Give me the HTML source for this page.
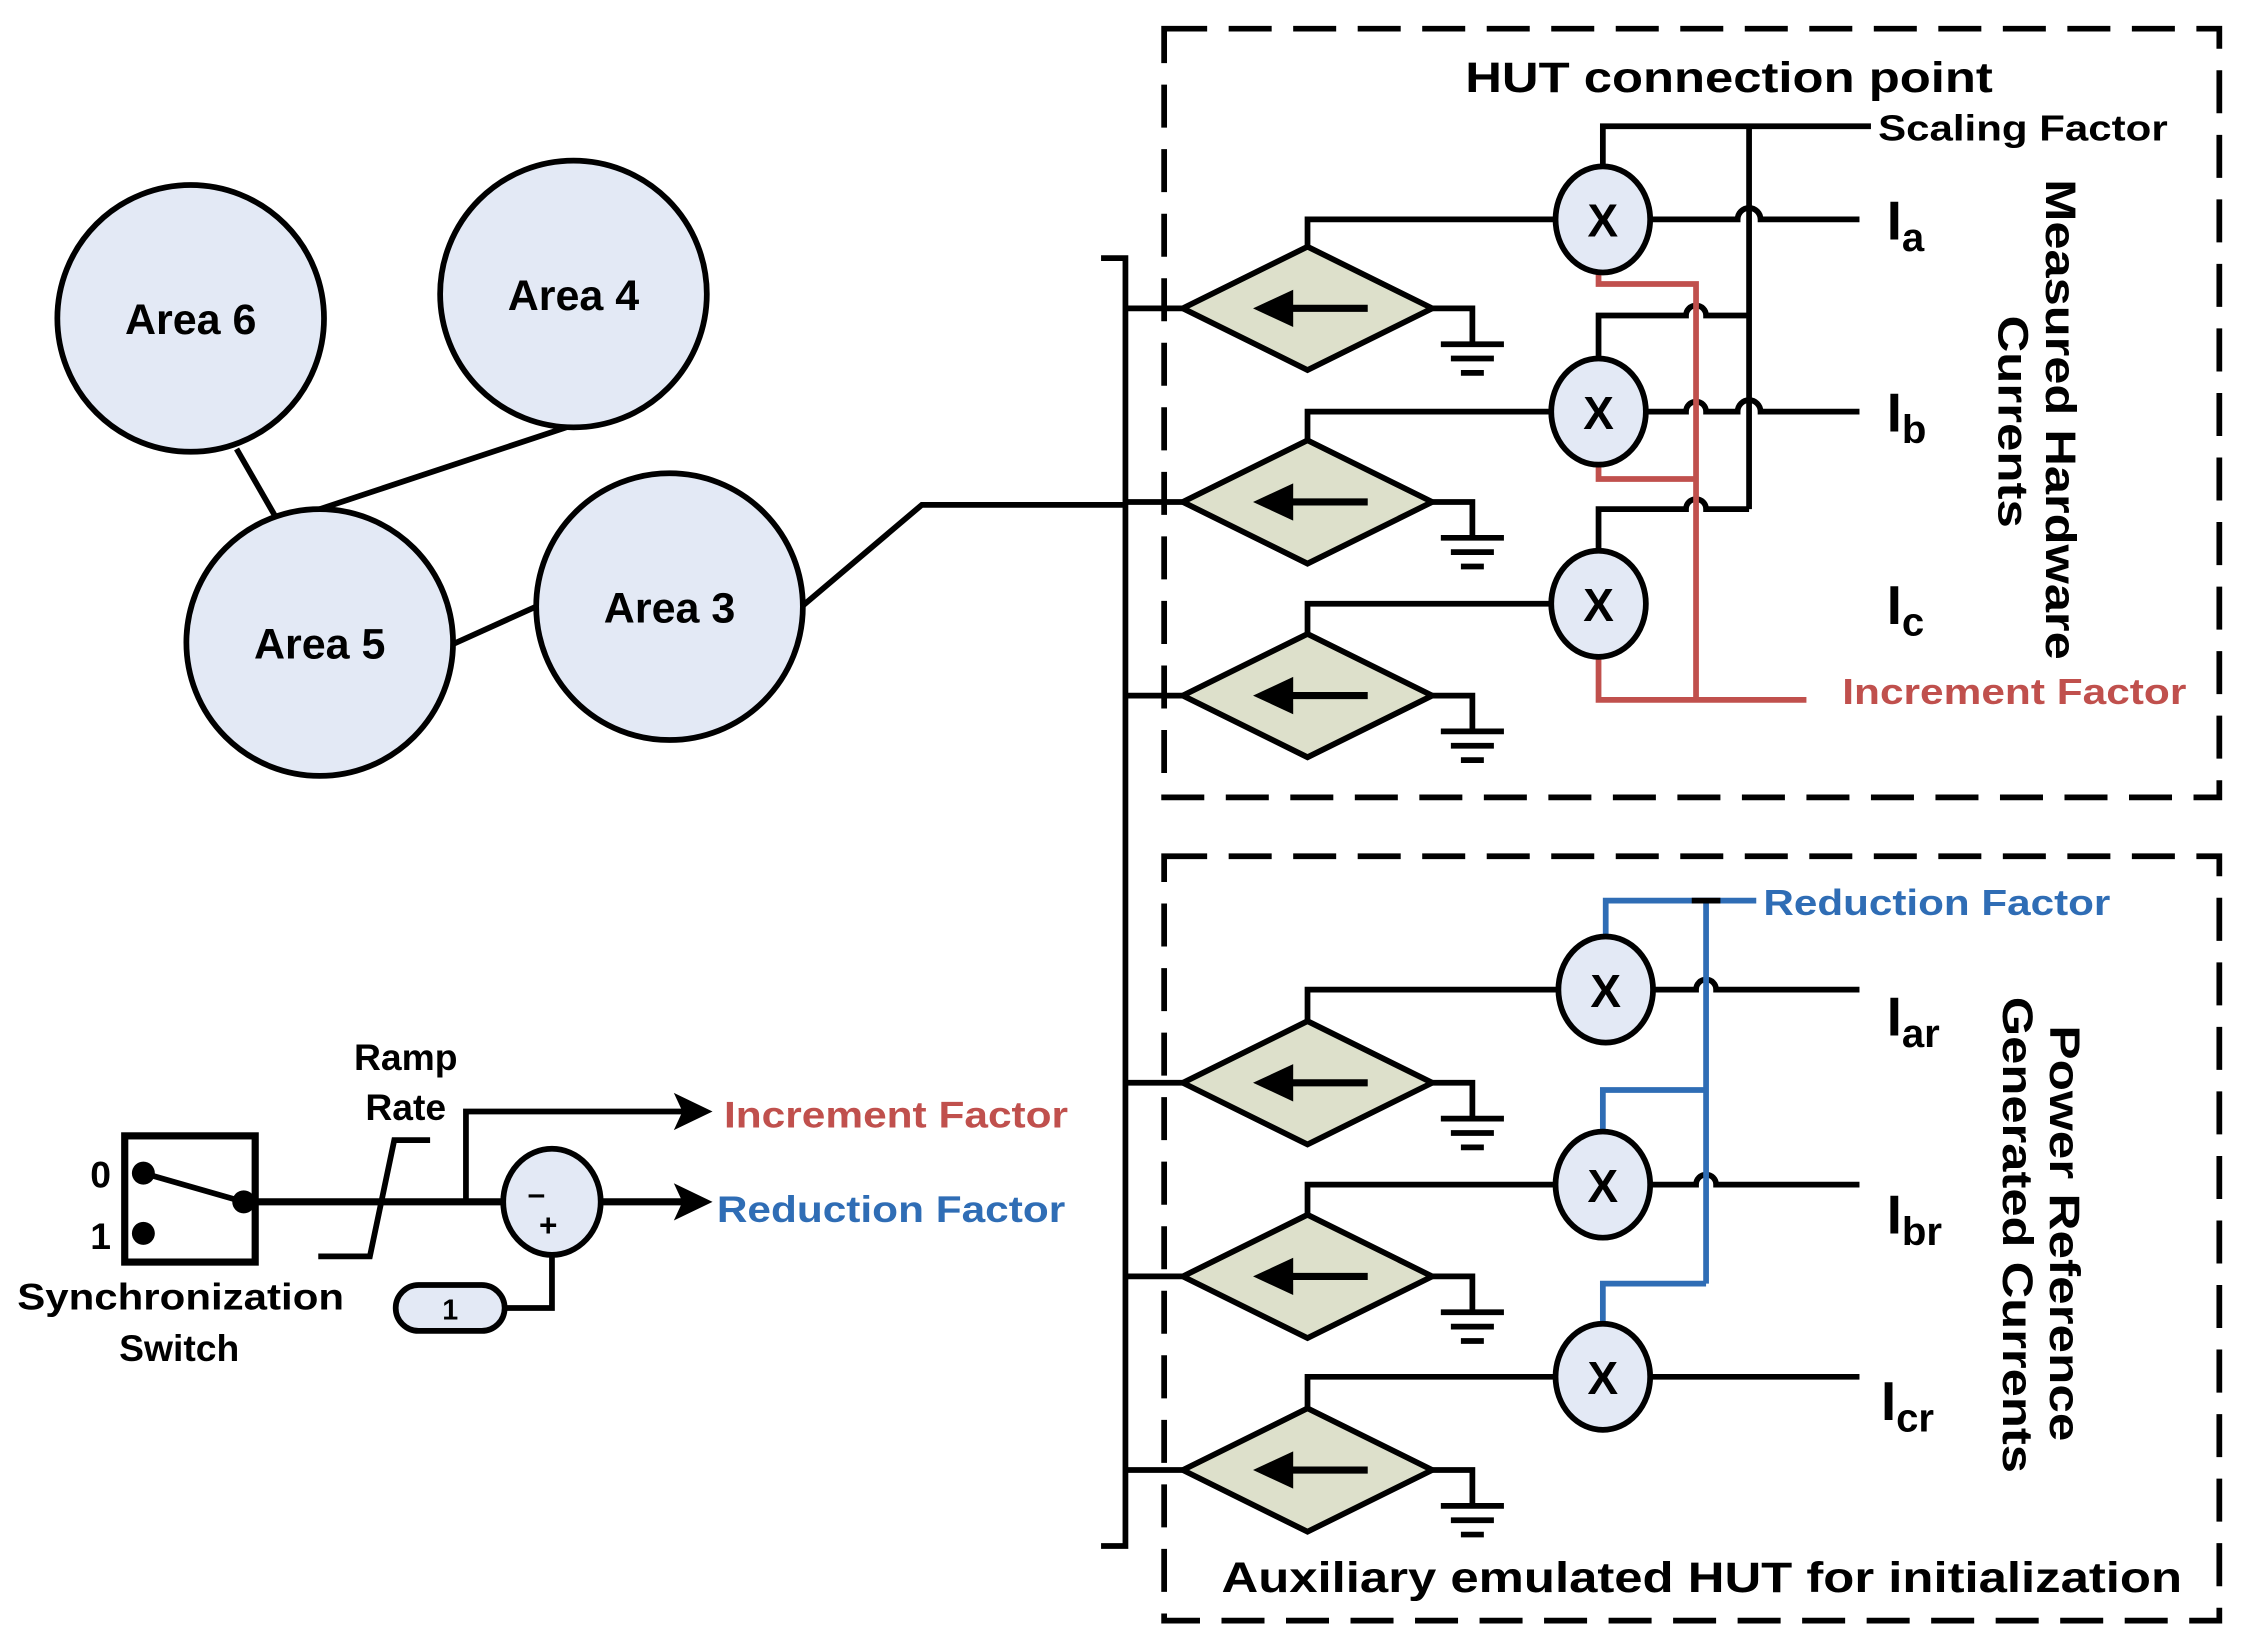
<!DOCTYPE html>
<html><head><meta charset="utf-8"><style>
html,body{margin:0;padding:0;background:#fff;}
svg{display:block;}
text{font-family:"Liberation Sans",sans-serif;font-weight:bold;}
</style></head><body>
<svg width="2248" height="1645" viewBox="0 0 1568 1147" preserveAspectRatio="none" xmlns="http://www.w3.org/2000/svg">
<defs>
<g id="diam">
  <polygon points="-87,0 0,-43 87,0 0,43" fill="#dde0cb" stroke="#000" stroke-width="4"/>
  <line x1="-20" y1="0" x2="42" y2="0" stroke="#000" stroke-width="5"/>
  <polygon points="-38,0 -10,-13 -10,13" fill="#000"/>
  <polyline points="87,0 115,0 115,25" fill="none" stroke="#000" stroke-width="4"/>
  <line x1="93" y1="25" x2="137" y2="25" stroke="#000" stroke-width="4"/>
  <line x1="100" y1="35" x2="130" y2="35" stroke="#000" stroke-width="4"/>
  <line x1="107" y1="45" x2="123" y2="45" stroke="#000" stroke-width="4"/>
</g>
<g id="mul">
  <ellipse cx="0" cy="0" rx="33" ry="37" fill="#e3e9f5" stroke="#000" stroke-width="4"/>
  <text x="0" y="12" font-size="32" text-anchor="middle" font-weight="normal">X</text>
</g>
</defs>

<g fill="none" stroke="#000" stroke-width="4" stroke-dasharray="30,15">
<rect x="812" y="20" width="736" height="536"/>
<rect x="812" y="597" width="736" height="533"/>
</g>

<g stroke="#000" stroke-width="4" fill="none">
<polyline points="768,180 785,180 785,1078 768,1078"/>
<line x1="785" y1="215" x2="825" y2="215"/>
<line x1="785" y1="350" x2="825" y2="350"/>
<line x1="785" y1="485" x2="825" y2="485"/>
<line x1="785" y1="755" x2="825" y2="755"/>
<line x1="785" y1="890" x2="825" y2="890"/>
<line x1="785" y1="1025" x2="825" y2="1025"/>
</g>

<g stroke="#000" stroke-width="4" fill="none">
<polyline points="912,172 912,153 1085,153"/>
<polyline points="912,307 912,287 1082,287"/>
<polyline points="912,442 912,421 1082,421"/>
<polyline points="912,712 912,690 1087,690"/>
<polyline points="912,847 912,826 1085,826"/>
<polyline points="912,982 912,960 1085,960"/>
<path d="M1151,153 H1212 A8,8 0 0 1 1228,153 H1297"/>
<path d="M1148,287 H1176 A7,7 0 0 1 1190,287 H1212 A8,8 0 0 1 1228,287 H1297"/>
<path d="M1153,690 H1183 A7,7 0 0 1 1197,690 H1297"/>
<path d="M1151,826 H1183 A7,7 0 0 1 1197,826 H1297"/>
<line x1="1151" y1="960" x2="1297" y2="960"/>
<polyline points="1118,116 1118,88 1305,88"/>
<line x1="1220" y1="88" x2="1220" y2="355"/>
<path d="M1220,220 H1190 A7,7 0 0 0 1176,220 H1115 V250"/>
<path d="M1220,355 H1190 A7,7 0 0 0 1176,355 H1115 V384"/>
</g>

<g stroke="#c0504d" stroke-width="4" fill="none">
<polyline points="1115,190 1115,198 1183,198 1183,488"/>
<polyline points="1115,324 1115,334 1183,334"/>
<polyline points="1115,458 1115,488 1260,488"/>
</g>
<g stroke="#2f6db5" stroke-width="4" fill="none">
<polyline points="1120,653 1120,628 1225,628"/>
<line x1="1190" y1="628" x2="1190" y2="895"/>
<polyline points="1118,789 1118,760 1190,760"/>
<polyline points="1118,923 1118,895 1190,895"/>
</g>
<line x1="1180" y1="628" x2="1200" y2="628" stroke="#000" stroke-width="4"/>

<use href="#diam" x="912" y="215"/>
<use href="#diam" x="912" y="350"/>
<use href="#diam" x="912" y="485"/>
<use href="#diam" x="912" y="755"/>
<use href="#diam" x="912" y="890"/>
<use href="#diam" x="912" y="1025"/>

<use href="#mul" x="1118" y="153"/>
<use href="#mul" x="1115" y="287"/>
<use href="#mul" x="1115" y="421"/>
<use href="#mul" x="1120" y="690"/>
<use href="#mul" x="1118" y="826"/>
<use href="#mul" x="1118" y="960"/>

<text x="1022" y="64" font-size="30" textLength="368" lengthAdjust="spacingAndGlyphs">HUT connection point</text>
<text x="1310" y="98" font-size="25" textLength="202" lengthAdjust="spacingAndGlyphs">Scaling Factor</text>
<text x="1285" y="491" font-size="25" fill="#c0504d" textLength="240" lengthAdjust="spacingAndGlyphs">Increment Factor</text>
<text x="1230" y="638" font-size="25" fill="#2f6db5" textLength="242" lengthAdjust="spacingAndGlyphs">Reduction Factor</text>
<text x="852" y="1110" font-size="30" textLength="670" lengthAdjust="spacingAndGlyphs">Auxiliary emulated HUT for initialization</text>
<text x="1316" y="167" font-size="38">I<tspan font-size="28" dy="8">a</tspan></text>
<text x="1316" y="301" font-size="38">I<tspan font-size="28" dy="8">b</tspan></text>
<text x="1316" y="435" font-size="38">I<tspan font-size="28" dy="8">c</tspan></text>
<text x="1316" y="722" font-size="38">I<tspan font-size="28" dy="8">ar</tspan></text>
<text x="1316" y="860" font-size="38">I<tspan font-size="28" dy="8">br</tspan></text>
<text x="1312" y="990" font-size="38">I<tspan font-size="28" dy="8">cr</tspan></text>
<text transform="translate(1427,125) rotate(90)" font-size="30" textLength="335" lengthAdjust="spacingAndGlyphs">Measured Hardware</text>
<text transform="translate(1394,220) rotate(90)" font-size="30" textLength="148" lengthAdjust="spacingAndGlyphs">Currents</text>
<text transform="translate(1430,715) rotate(90)" font-size="30" textLength="290" lengthAdjust="spacingAndGlyphs">Power Reference</text>
<text transform="translate(1397,695) rotate(90)" font-size="30" textLength="332" lengthAdjust="spacingAndGlyphs">Generated Currents</text>

<g stroke="#000" stroke-width="4" fill="none">
<line x1="165" y1="313" x2="192" y2="360"/>
<line x1="398" y1="297" x2="220" y2="356"/>
<line x1="314" y1="450" x2="376" y2="422"/>
<polyline points="558,424 643,352 785,352"/>
</g>
<g fill="#e3e9f5" stroke="#000" stroke-width="4">
<circle cx="133" cy="222" r="93"/>
<circle cx="400" cy="205" r="93"/>
<circle cx="223" cy="448" r="93"/>
<circle cx="467" cy="423" r="93"/>
</g>
<g font-size="30" text-anchor="middle">
<text x="133" y="233">Area 6</text>
<text x="400" y="216">Area 4</text>
<text x="223" y="459">Area 5</text>
<text x="467" y="434">Area 3</text>
</g>

<g stroke="#000" stroke-width="4" fill="none">
<rect x="87" y="792" width="91" height="88" stroke-width="5"/>
<line x1="100" y1="818" x2="170" y2="838"/>
<line x1="170" y1="838" x2="350" y2="838" stroke-width="5"/>
<polyline points="222,876 258,876 275,795 300,795"/>
<polyline points="325,838 325,775 480,775"/>
<line x1="420" y1="838" x2="480" y2="838" stroke-width="5"/>
<polyline points="352,912 385,912 385,875"/>
</g>
<circle cx="100" cy="818" r="8"/>
<circle cx="100" cy="860" r="8"/>
<circle cx="170" cy="838" r="8"/>
<polygon points="470,762 497,775 470,788 476,775"/>
<polygon points="470,825 497,838 470,851 476,838"/>
<ellipse cx="385" cy="838" rx="34" ry="37" fill="#e3e9f5" stroke="#000" stroke-width="4"/>
<text x="368" y="840" font-size="22" font-weight="normal">–</text>
<text x="376" y="862" font-size="22">+</text>
<rect x="276" y="896" width="76" height="32" rx="16" fill="#e3e9f5" stroke="#000" stroke-width="4"/>
<text x="314" y="920" font-size="20" text-anchor="middle" font-weight="normal">1</text>
<text x="63" y="828" font-size="26">0</text>
<text x="63" y="871" font-size="26">1</text>
<text x="283" y="746" font-size="26" text-anchor="middle">Ramp</text>
<text x="283" y="781" font-size="26" text-anchor="middle">Rate</text>
<text x="12" y="913" font-size="26" textLength="228" lengthAdjust="spacingAndGlyphs">Synchronization</text>
<text x="125" y="949" font-size="26" text-anchor="middle">Switch</text>
<text x="505" y="786" font-size="26" fill="#c0504d" textLength="240" lengthAdjust="spacingAndGlyphs">Increment Factor</text>
<text x="500" y="852" font-size="26" fill="#2f6db5" textLength="243" lengthAdjust="spacingAndGlyphs">Reduction Factor</text>
</svg>
</body></html>
